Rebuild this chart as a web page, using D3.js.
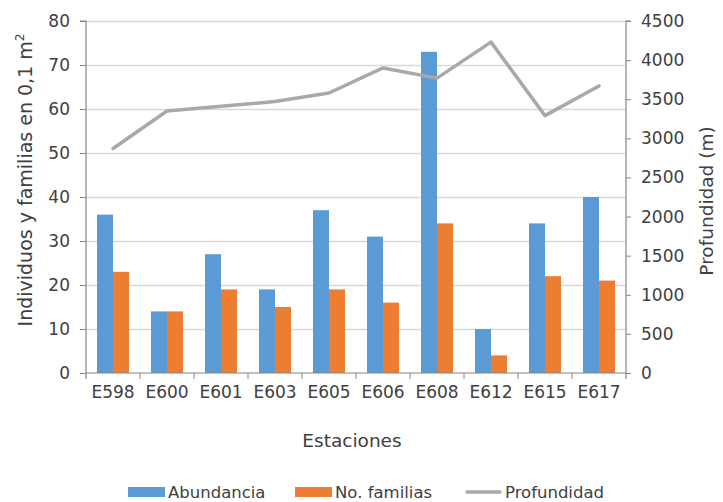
<!DOCTYPE html>
<html><head><meta charset="utf-8">
<script src="https://cdn.jsdelivr.net/npm/d3@7"></script>
<style>
body{margin:0;background:#fff;}
text{font-family:"DejaVu Sans",Verdana,sans-serif;fill:#404040;}
</style></head>
<body><svg id="c" width="723" height="502"></svg>
<script>
const categories = ["E598","E600","E601","E603","E605","E606","E608","E612","E615","E617"];
const abundancia = [36,14,27,19,37,31,73,10,34,40];
const familias = [23,14,19,15,19,16,34,4,22,21];
const profundidad = [2870,3350,3410,3470,3580,3900,3770,4230,3290,3670];
const leftTicks = [0,10,20,30,40,50,60,70,80];
const rightTicks = [0,500,1000,1500,2000,2500,3000,3500,4000,4500];

const svg = d3.select("#c");
const L = 86, R = 626, T = 21, B = 373;
const x = d3.scaleBand().domain(categories).range([L, R]).paddingInner(0).paddingOuter(0);
const yL = d3.scaleLinear().domain([0,80]).range([B, T]);
const yR = d3.scaleLinear().domain([0,4500]).range([B, T]);
const bw = 16;
const tickFont = "17px";

// gridlines
svg.append("g").selectAll("line").data(leftTicks.filter(d=>d>0)).join("line")
  .attr("x1", L).attr("x2", R).attr("y1", d=>yL(d)+0.5).attr("y2", d=>yL(d)+0.5)
  .attr("stroke", "#d9d9d9").attr("stroke-width", 1.5);

// bars
const g = svg.append("g");
g.selectAll(".a").data(categories).join("rect")
  .attr("x", (d,i)=>x(d)+x.bandwidth()/2-bw).attr("width", bw)
  .attr("y", (d,i)=>yL(abundancia[i])).attr("height", (d,i)=>B-yL(abundancia[i]))
  .attr("fill", "#5b9bd5");
g.selectAll(".f").data(categories).join("rect")
  .attr("x", (d,i)=>x(d)+x.bandwidth()/2).attr("width", bw)
  .attr("y", (d,i)=>yL(familias[i])).attr("height", (d,i)=>B-yL(familias[i]))
  .attr("fill", "#ed7d31");

// line
const line = d3.line().x((d,i)=>x(categories[i])+x.bandwidth()/2).y(d=>yR(d));
svg.append("path").datum(profundidad).attr("d", line)
  .attr("fill","none").attr("stroke","#a9a9a9").attr("stroke-width",3.5)
  .attr("stroke-linejoin","round").attr("stroke-linecap","round");

// axes
const axisColor = "#868686";
const ga = svg.append("g").attr("transform", `translate(${L},0)`)
  .call(d3.axisLeft(yL).tickValues(leftTicks).tickSize(6).tickPadding(10));
const gr = svg.append("g").attr("transform", `translate(${R},0)`)
  .call(d3.axisRight(yR).tickValues(rightTicks).tickFormat(d3.format("d")).tickSize(5).tickPadding(10));
const gx = svg.append("g").attr("transform", `translate(0,${B})`)
  .call(d3.axisBottom(x).tickSize(0).tickPadding(13));
// x boundary ticks
svg.append("g").selectAll("line").data(categories.slice(1)).join("line")
  .attr("x1", d=>x(d)).attr("x2", d=>x(d)).attr("y1", B).attr("y2", B+6)
  .attr("stroke", axisColor);
[ga, gr, gx].forEach(a=>{
  a.selectAll("path").attr("stroke", axisColor).attr("stroke-width",1.2);
  a.selectAll("line").attr("stroke", axisColor);
  a.selectAll("text").style("font-size",tickFont).attr("fill","#404040")
    .style("font-family","'DejaVu Sans',Verdana,sans-serif");
});
ga.select(".domain").attr("d", `M-6,${T}H0V${B+6}`);
gr.select(".domain").attr("d", `M5,${T}H0V${B+6}`);
gx.select(".domain").attr("d", `M${L},0H${R}`);

// axis titles
svg.append("text").attr("transform", `translate(32,180) rotate(-90)`)
  .attr("text-anchor","middle").style("font-size","19px")
  .text("Individuos y familias en 0,1 m").append("tspan").attr("dy",-8).style("font-size","12px").text("2");
svg.append("text").attr("transform", `translate(713,201) rotate(-90)`)
  .attr("text-anchor","middle").style("font-size","18.5px").text("Profundidad (m)");
svg.append("text").attr("x", 352).attr("y", 447).attr("text-anchor","middle")
  .style("font-size","18.5px").text("Estaciones");

// legend
const lg = svg.append("g");
const items = [
  {name:"Abundancia", type:"rect", color:"#5b9bd5", x:128},
  {name:"No. familias", type:"rect", color:"#ed7d31", x:295},
  {name:"Profundidad", type:"line", color:"#a9a9a9", x:465}
];
items.forEach(it=>{
  if (it.type==="rect") lg.append("rect").attr("x", it.x).attr("y", 487).attr("width",37).attr("height",10).attr("fill", it.color);
  else lg.append("line").attr("x1", it.x+2).attr("x2", it.x+35).attr("y1", 492).attr("y2", 492)
    .attr("stroke", it.color).attr("stroke-width",3.5).attr("stroke-linecap","round");
  lg.append("text").attr("x", it.x+40).attr("y", 498).style("font-size","16.5px").text(it.name);
});
</script></body></html>
